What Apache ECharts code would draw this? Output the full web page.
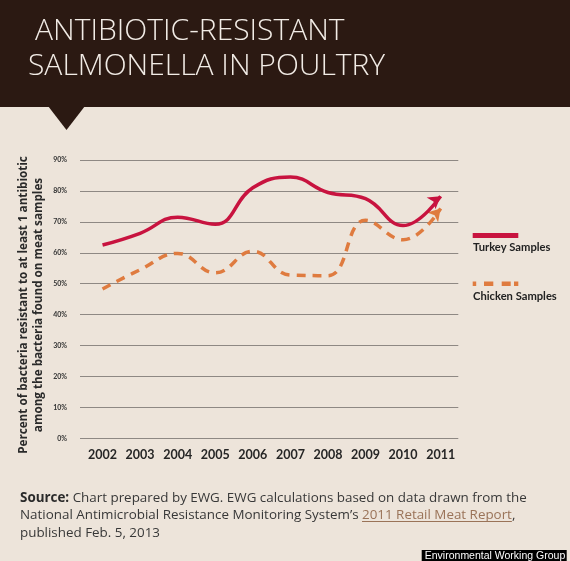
<!DOCTYPE html>
<html><head><meta charset="utf-8">
<script src="https://cdn.jsdelivr.net/npm/echarts@6/dist/echarts.min.js"></script>
<style>html,body{margin:0;padding:0;background:#ede4da}#c{width:570px;height:561px}</style>
</head><body><div id="c"></div>
<script>
// ---- data ----
const years = [2002, 2003, 2004, 2005, 2006, 2007, 2008, 2009, 2010, 2011];
const turkey = [62.5, 66.3, 71.5, 69.2, 81.0, 84.5, 79.5, 77.5, 68.8, 78.3];
const chicken = [48.3, 54.5, 59.8, 53.5, 60.5, 52.8, 52.6, 70.5, 64.2, 74.3];
const seriesNames = ['Turkey Samples', 'Chicken Samples'];
const yTickValues = [0, 10, 20, 30, 40, 50, 60, 70, 80, 90];
const titleLines = ['ANTIBIOTIC-RESISTANT', 'SALMONELLA IN POULTRY'];
const yTitleLines = ['Percent of bacteria resistant to at least 1 antibiotic', 'among the bacteria found on meat samples'];
const sourceLabel = 'Source:';
const sourceLine1 = ' Chart prepared by EWG. EWG calculations based on data drawn from the';
const sourceLine2a = 'National Antimicrobial Resistance Monitoring System’s ';
const sourceLink = '2011 Retail Meat Report';
const sourceLine2b = ',';
const sourceLine3 = 'published Feb. 5, 2013';
const credit = 'Environmental Working Group';

// ---- styles ----
const RED = '#c8133f', ORANGE = '#df7b3f', DARK = '#2b1912';
const SRC_FONT = '13.4px "Open Sans"';

function measure(text, font) {
  const c = document.createElement('canvas').getContext('2d');
  c.font = font; return c.measureText(text).width;
}

function buildData(vals, rot, size) {
  return years.map((y, i) => i === years.length - 1
    ? { value: [y, vals[i]], symbol: 'arrow', symbolSize: size, symbolRotate: rot }
    : { value: [y, vals[i]], symbol: 'none' });
}

const chart = echarts.init(document.getElementById('c'), null, { renderer: 'canvas' });

const srcX = 20;
const prefixW = measure(sourceLine2a, SRC_FONT);
const linkW = measure(sourceLink, SRC_FONT);

const legendDash = [[472.7, 3.5], [484, 9.3], [501.7, 9], [514, 4.3]];

const graphic = [
  { type: 'rect', shape: { x: 0, y: 0, width: 570, height: 107 }, style: { fill: DARK }, z: 1 },
  { type: 'polygon', shape: { points: [[48, 106], [85, 106], [66.5, 130]] }, style: { fill: DARK }, z: 1 },
  { type: 'text', x: 35, y: 31, style: { text: titleLines[0], fill: '#f2ece6', font: '300 30px "Open Sans"', verticalAlign: 'middle' }, z: 2 },
  { type: 'text', x: 28, y: 66.5, style: { text: titleLines[1], fill: '#f2ece6', font: '300 30px "Open Sans"', verticalAlign: 'middle' }, z: 2 },
  { type: 'text', x: 31.5, y: 305, rotation: Math.PI / 2,
    style: { text: yTitleLines.join('\n'), fill: '#2a2a2a', font: 'bold 11.7px "Open Sans"', align: 'center', verticalAlign: 'middle', lineHeight: 15 }, z: 2 },
  // legend
  { type: 'rect', shape: { x: 472.7, y: 233, width: 45.6, height: 5 }, style: { fill: RED }, z: 2 },
  { type: 'text', x: 473, y: 247, style: { text: seriesNames[0], fill: '#222', font: 'bold 11.2px Lato', verticalAlign: 'middle' }, z: 2 },
  ...legendDash.map(d => ({ type: 'rect', shape: { x: d[0], y: 281.5, width: d[1], height: 4.5 }, style: { fill: ORANGE }, z: 2 })),
  { type: 'text', x: 473, y: 296, style: { text: seriesNames[1], fill: '#222', font: 'bold 11.2px Lato', verticalAlign: 'middle' }, z: 2 },
  // source
  { type: 'text', x: srcX, y: 498, style: { text: '{b|' + sourceLabel + '}' + sourceLine1, fill: '#383838', font: SRC_FONT, verticalAlign: 'middle',
      rich: { b: { fontWeight: 'bold', fontFamily: 'Open Sans', fontSize: 13.4, fill: '#2a2a2a' } } }, z: 2 },
  { type: 'text', x: srcX, y: 515.5, style: { text: sourceLine2a, fill: '#383838', font: SRC_FONT, verticalAlign: 'middle' }, z: 2 },
  { type: 'text', x: srcX + prefixW, y: 515.5, style: { text: sourceLink, fill: '#9a7358', font: SRC_FONT, verticalAlign: 'middle' }, z: 2 },
  { type: 'text', x: srcX + prefixW + linkW, y: 515.5, style: { text: sourceLine2b, fill: '#383838', font: SRC_FONT, verticalAlign: 'middle' }, z: 2 },
  { type: 'line', shape: { x1: srcX + prefixW, y1: 521.5, x2: srcX + prefixW + linkW, y2: 521.5 }, style: { stroke: '#9a7358', lineWidth: 1 }, z: 2 },
  { type: 'text', x: srcX, y: 533, style: { text: sourceLine3, fill: '#383838', font: SRC_FONT, verticalAlign: 'middle' }, z: 2 },
  // credit
  { type: 'rect', shape: { x: 421.7, y: 550, width: 145, height: 11 }, style: { fill: '#000' }, z: 2 },
  { type: 'text', x: 495, y: 555.7, style: { text: credit, fill: '#fff', font: '10.5px "Liberation Sans"', align: 'center', verticalAlign: 'middle' }, z: 3 }
];

chart.setOption({
  backgroundColor: '#ede4da',
  animation: false,
  grid: { left: 80, right: 111.7, top: 160, bottom: 122.7, containLabel: false },
  xAxis: {
    type: 'value', min: 2001.4, max: 2011.47,
    axisLine: { show: false }, axisTick: { show: false }, splitLine: { show: false },
    axisLabel: { customValues: years, formatter: v => String(v), fontFamily: 'Lato', fontWeight: 'bold', fontSize: 12.5, color: '#262626', margin: 10 }
  },
  yAxis: {
    type: 'value', min: yTickValues[0], max: yTickValues[yTickValues.length - 1], interval: 10,
    axisLine: { show: false }, axisTick: { show: false },
    splitLine: { lineStyle: { color: '#8e8883', width: 1 } },
    axisLabel: { formatter: '{value}%', fontFamily: 'Lato', fontWeight: 'bold', fontSize: 7, color: '#333', margin: 13 }
  },
  series: [
    { name: seriesNames[0], type: 'line', smooth: 0.45, showSymbol: true, data: buildData(turkey, -53, [11, 12]),
      lineStyle: { color: RED, width: 3.5 }, itemStyle: { color: RED }, z: 4 },
    { name: seriesNames[1], type: 'line', smooth: 0.45, showSymbol: true, data: buildData(chicken, -42, [11, 12]),
      lineStyle: { color: ORANGE, width: 3.5, type: [9, 7] }, itemStyle: { color: ORANGE }, z: 3 }
  ],
  graphic: graphic
});
</script>
</body></html>
